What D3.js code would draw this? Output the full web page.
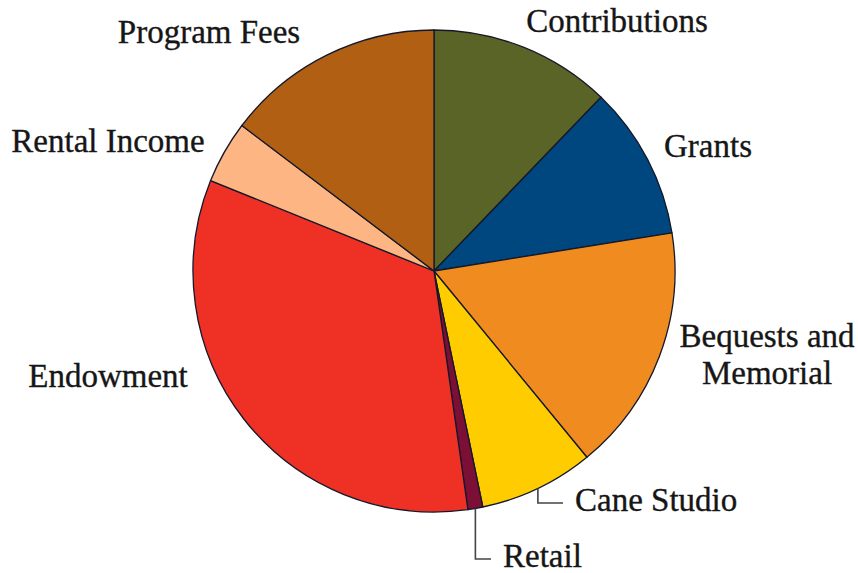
<!DOCTYPE html>
<html>
<head>
<meta charset="utf-8">
<script src="https://cdn.jsdelivr.net/npm/d3@7"></script>
<style>
  body { margin: 0; background: #fff; }
  text { font-family: "Liberation Serif", "DejaVu Serif", serif; fill: #161616; stroke: #161616; stroke-width: 0.35px; }
</style>
</head>
<body>
<div id="chart"></div>
<script>
// slices, clockwise from 12 o'clock
var categories = ["Contributions", "Grants", "Bequests and Memorial", "Cane Studio", "Retail", "Endowment", "Rental Income", "Program Fees"];
var values     = [12.2, 10.3, 16.6, 7.7, 1.0, 33.4, 4.2, 14.7];
var colors     = ["#5a6427", "#00467f", "#ef8b1f", "#ffcc00", "#7b0f35", "#ee3124", "#fdb584", "#b05f13"];

const xSize = 858, ySize = 573;
const cx = 434, cy = 271;
const radius = 241;

const svg = d3.select("#chart")
              .append("svg")
              .attr("width", xSize)
              .attr("height", ySize);

const g = svg.append("g")
             .attr("transform", "translate(" + cx + "," + cy + ")");

var pie = d3.pie().sort(null);
var arc = d3.arc().innerRadius(0).outerRadius(radius);

var slices = pie(values);

g.selectAll("path")
  .data(slices)
  .enter()
  .append("path")
  .attr("d", arc)
  .attr("fill", function(d, i) { return colors[i]; })
  .attr("stroke", "#15182a")
  .attr("stroke-width", 1.3)
  .attr("stroke-linejoin", "round");

// label placement (svg coords): text lines, x, baseline y, anchor
var labelLayout = [
  { lines: ["Contributions"], x: 617, y: 32, anchor: "middle" },
  { lines: ["Grants"], x: 708, y: 157, anchor: "middle" },
  { lines: ["Bequests and", "Memorial"], x: 767, y: 347, anchor: "middle" },
  { lines: ["Cane Studio"], x: 575, y: 511, anchor: "start", leader: true },
  { lines: ["Retail"], x: 503, y: 567, anchor: "start", leader: true },
  { lines: ["Endowment"], x: 108, y: 387, anchor: "middle" },
  { lines: ["Rental Income"], x: 108, y: 152, anchor: "middle" },
  { lines: ["Program Fees"], x: 209, y: 43, anchor: "middle" }
];

labelLayout.forEach(function(l, i) {
  var t = svg.append("text")
    .attr("x", l.x)
    .attr("y", l.y)
    .attr("text-anchor", l.anchor)
    .style("font-size", "33px");
  l.lines.forEach(function(s, k) {
    t.append("tspan").attr("x", l.x).attr("dy", k == 0 ? 0 : 37).text(s);
  });

  // elbow leader lines for the small bottom slices
  if (l.leader) {
    var a = (slices[i].startAngle + slices[i].endAngle) / 2;
    var px = cx + radius * Math.sin(a);
    var py = cy - radius * Math.cos(a);
    var ly = l.y - 8;
    svg.append("path")
      .attr("d", "M" + px + "," + py + "V" + ly + "H" + (l.x - 12))
      .attr("fill", "none")
      .attr("stroke", "#444")
      .attr("stroke-width", 1.6);
  }
});
</script>
</body>
</html>
